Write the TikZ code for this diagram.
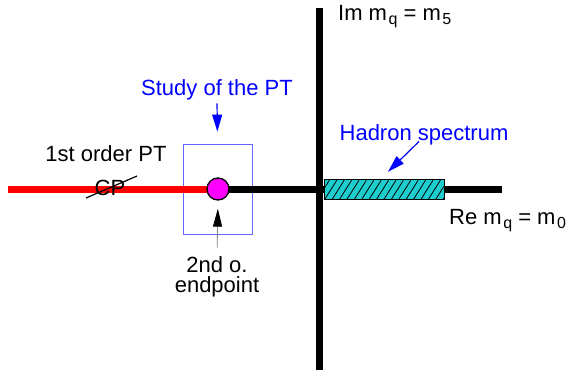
\documentclass[tikz,border=0pt]{standalone}
\usepackage{fontspec}
\setmainfont{Liberation Sans}
\usetikzlibrary{arrows.meta}
\definecolor{boxblue}{RGB}{100,100,255}
\definecolor{hcyan}{RGB}{30,205,205}
\definecolor{pmag}{RGB}{255,0,255}
\newcommand\mysb[1]{\kern1.5pt\raisebox{-0.35ex}{\fontsize{16}{16}\selectfont #1}}
\begin{document}
\begin{tikzpicture}[x=1pt,y=-1pt,
  lbl/.style={font=\fontsize{22}{24}\selectfont, inner sep=0pt},
  axis/.style={line width=7pt},
  hatchline/.style={line width=0.8pt},
  blarrow/.style={blue, line width=1.2pt, -{Triangle[length=17pt,width=10pt]}},
  kblarrow/.style={draw=gray, line width=0.8pt, -{Triangle[length=18pt,width=9pt,color=black]}}]
\useasboundingbox (0,0) rectangle (567,370);
\fill[white] (0,0) rectangle (567,370);
% study box (behind lines)
\node[draw=boxblue, line width=0.8pt, minimum width=69pt, minimum height=90pt, inner sep=0pt] (studybox) at (217.5,189) {};
% axes
\draw[axis] (319,8) -- (319,370);
\draw[axis] (218,189) -- (502,189);
\draw[axis, red] (8,189) -- (218,189);
% hadron spectrum box
\node[fill=hcyan, minimum width=119pt, minimum height=19pt, inner sep=0pt] (hs) at (384.5,189.5) {};
\begin{scope}
  \clip (hs.south west) rectangle (hs.north east);
  \foreach \i in {-2,...,17}
    \draw[hatchline] ([xshift=\i*7.4pt]hs.south west) -- ++(12,-19);
\end{scope}
\draw[line width=0.7pt] (hs.south west) rectangle (hs.north east);
% endpoint
\node[circle, fill=pmag, draw, line width=1.3pt, minimum size=22pt, inner sep=0pt] (ep) at (218,189) {};
% texts
\node[lbl, blue] (studytxt) at (217,90) {Study of the PT};
\node[lbl] (first) at (106,154) {1st order PT};
\node[lbl] (cp) at (110,188) {CP};
\draw[line width=1.2pt] ([shift={(-24,10)}]cp.center) -- ([shift={(27,-12)}]cp.center);
\node[lbl] (o2) at (217,265) {2nd o.};
\node[lbl] (endp) at (217,287) {endpoint};
\node[lbl, blue] (hadtxt) at (424,135) {Hadron spectrum};
\node[lbl, anchor=west] (re) at (449,221) {Re m\mysb{q} = m\mysb{0}};
\node[lbl, anchor=west] (im) at (338,17) {Im m\mysb{q} = m\mysb{5}};
% arrows
\draw[blarrow, shorten <=3pt, shorten >=12pt] (studytxt.south) -- (studybox.north);
\draw[blarrow] ([xshift=-5pt,yshift=4pt]hadtxt.south) -- ([shift={(3.5,-8)}]hs.north);
\draw[kblarrow, shorten <=9pt, shorten >=8pt] (o2.north) -- (ep.south);
\end{tikzpicture}
\end{document}
